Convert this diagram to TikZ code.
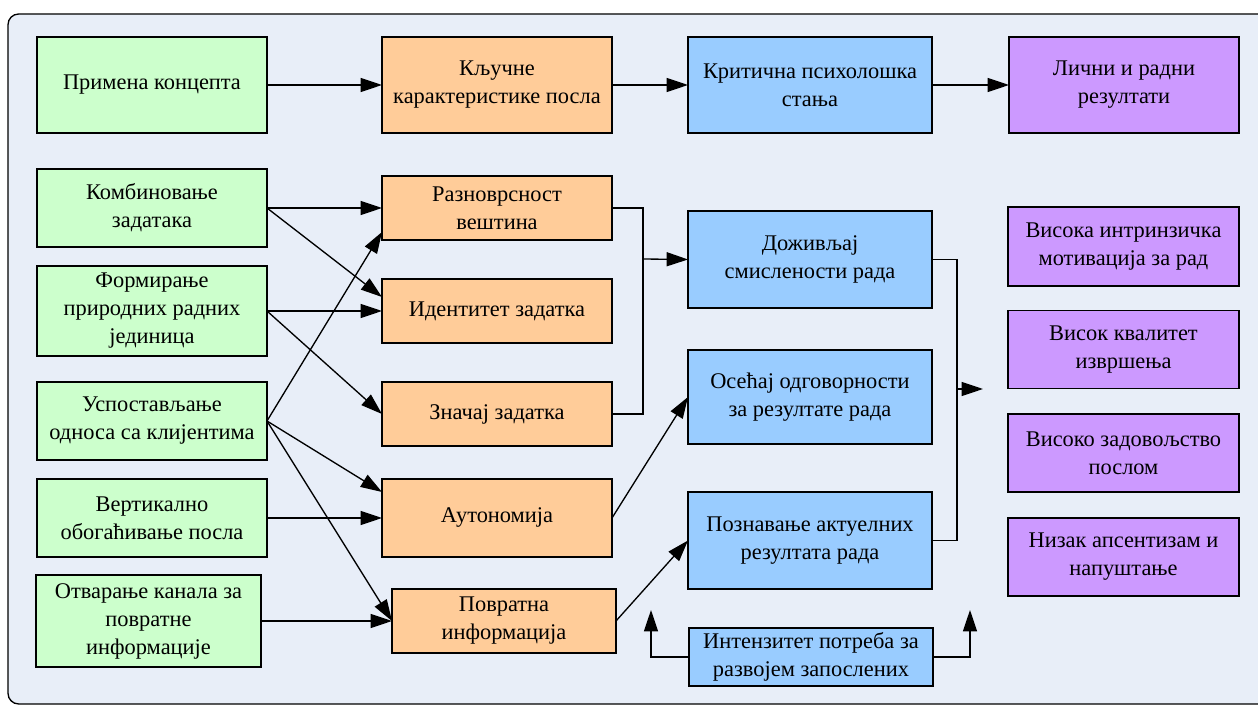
\documentclass[tikz,border=0pt]{standalone}
\usepackage{fontspec}
\setmainfont{LiberationSerif}[Extension=.ttf, UprightFont=*-Regular, BoldFont=*-Bold]
\usetikzlibrary{positioning}
\usetikzlibrary{calc}
\usetikzlibrary{arrows.meta}
\usepackage{xcolor}
\definecolor{bgfill}{HTML}{E8EEF8}
\definecolor{green}{HTML}{CCFFCC}
\definecolor{orange}{HTML}{FFCC99}
\definecolor{blue}{HTML}{99CCFF}
\definecolor{violet}{HTML}{CC99FF}
\tikzset{
	x=0.75pt, y=-0.75pt,
	every node/.style={align=center, font=\fontsize{16.8}{21}\selectfont},
	every path/.style={line width=1pt},
	box/.style={draw, rectangle, inner sep=0pt, outer sep=0pt},
	wh/.style 2 args={minimum width=#1*0.75pt, minimum height=#2*0.75pt},
	sk/.style={box, fill=green},
	kk/.style={box, fill=orange},
	ps/.style={box, fill=blue},
	rz/.style={box, fill=violet},
	arr/.style={-{Triangle[length=16pt,width=10.5pt]}}
}

\begin{document}
\begin{tikzpicture}
	\useasboundingbox (0,0) rectangle (1258,705);
	% Frame
	\draw[rounded corners=8pt, fill=bgfill] (8,14) rectangle (1290,704);
	
	% Header row
	\node (g0) [sk, wh={230}{96}] at (152,85) {Примена концепта};
	\node (o0) [kk, wh={230}{96}] at (497,85) {Кључне\\карактеристике посла};
	\node (b0) [ps, wh={244}{96}] at (810,85) {Критична психолошка\\стања};
	\node (p0) [rz, wh={230}{96}] at (1124,85) {Лични и радни\\резултати};
	
	% Concepts
	\node (g1) [sk, wh={230}{78}] at (152,208) {Комбиновање\\задатака};
	\node (g2) [sk, wh={230}{90}] at (152,311) {Формирање\\природних радних\\јединица};
	\node (g3) [sk, wh={230}{78}] at (152,421) {Успостављање\\односа са клијентима};
	\node (g4) [sk, wh={230}{78}] at (152,518) {Вертикално\\обогаћивање посла};
	\node (g5) [sk, wh={225}{92}] at (148.5,621) {Отварање канала за\\повратне\\информације};
	
	% Job characteristics
	\node (o1) [kk, wh={230}{64}] at (497,208) {Разноврсност\\вештина};
	\node (o2) [kk, wh={230}{64}] at (497,311) {Идентитет задатка};
	\node (o3) [kk, wh={230}{64}] at (497,414) {Значај задатка};
	\node (o4) [kk, wh={230}{78}] at (497,518) {Аутономија};
	\node (o5) [kk, wh={224}{64}] at (504,621) {Повратна\\информација};
	
	% States
	\node (b1) [ps, wh={244}{97}] at (810,259.5) {Доживљај\\смислености рада};
	\node (b2) [ps, wh={244}{94}] at (810,397) {Осећај одговорности\\за резултате рада};
	\node (b3) [ps, wh={244}{97}] at (810,540.5) {Познавање актуелних\\резултата рада};
	\node (b4) [ps, wh={244}{58}] at (811,657) {Интензитет потреба за\\развојем запослених};
	
	% Outcomes
	\node (p1) [rz, wh={231}{79}] at (1123.5,246.5) {Висока интринзичка\\мотивација за рад};
	\node (p2) [rz, wh={231}{78}] at (1123.5,349.5) {Висок квалитет\\извршења};
	\node (p3) [rz, wh={231}{78}] at (1123.5,453) {Високо задовољство\\послом};
	\node (p4) [rz, wh={231}{78}] at (1123.5,557) {Низак апсентизам и\\напуштање};
	
	\coordinate (j1) at (643,259);
	\coordinate (j2) at (957,389);
	\coordinate (t2) at (983,389);
	\coordinate (u1) at (651,610);
	\coordinate (u2) at (970,610);
	
	\draw[arr] (g0) -- (o0);
	\draw[arr] (o0) -- (b0);
	\draw[arr] (b0) -- (p0);
	
	\draw[arr] (g1.east) -- (o1.west);
	\draw[arr] (g1.east) -- ($(o2.west)+(0,-14)$);
	\draw[arr] (g2.east) -- (o2.west);
	\draw[arr] (g2.east) -- (o3.west);
	\draw[arr] (g3.east) -- ($(o1.west)+(0,24)$);
	\draw[arr] (g3.east) -- ($(o4.west)+(0,-26)$);
	\draw[arr] (g3.east) -- (o5.west);
	\draw[arr] (g4.east) -- (o4.west);
	\draw[arr] (g5.east) -- (o5.west);
	
	\draw (o1.east) -| (j1) |- (o3.east);
	\draw[arr] (j1) -- (b1.west);
	\draw[arr] (o4.east) -- (b2.west);
	\draw[arr] (o5.east) -- (b3.west);
	
	\draw[arr] (b4.west) -| (u1);
	\draw[arr] (b4.east) -| (u2);
	
	\draw (b1.east) -| (j2) |- (b3.east);
	\draw[arr] (j2) -- (t2);
\end{tikzpicture}
\end{document}
